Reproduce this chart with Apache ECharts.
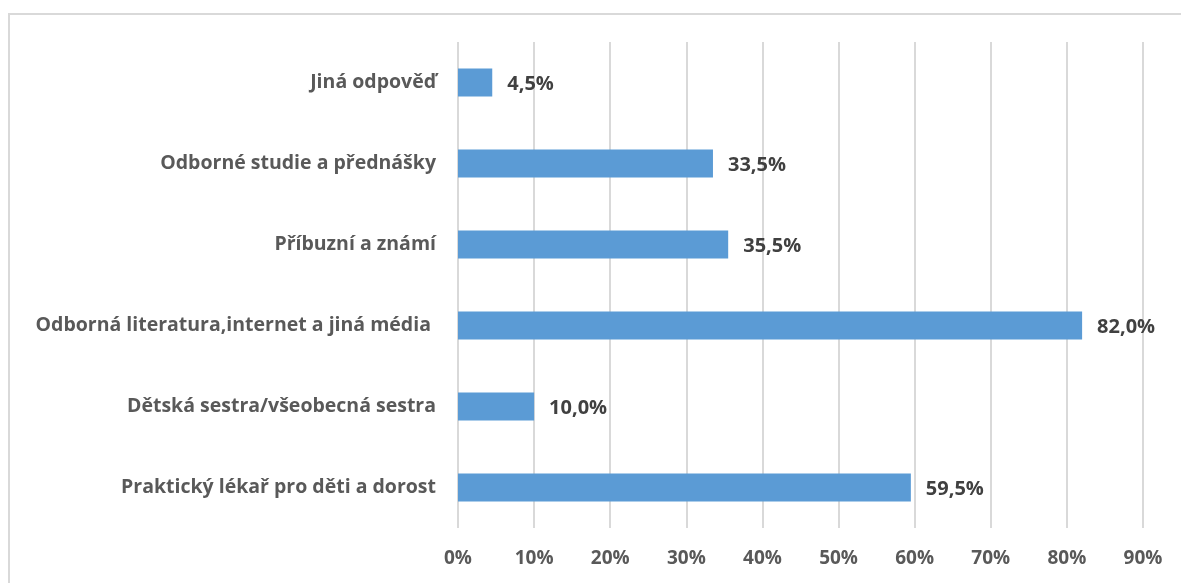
<!DOCTYPE html>
<html>
<head>
<meta charset="utf-8">
<script src="https://cdn.jsdelivr.net/npm/echarts@6/dist/echarts.min.js"></script>
<style>
  html, body { margin: 0; padding: 0; background: #ffffff; }
  #chart { width: 1181px; height: 583px; }
</style>
</head>
<body>
<div id="chart"></div>
<script>
// Sources of information (share of respondents, %), listed bottom to top
const categories = [
  'Praktický lékař pro děti a dorost',
  'Dětská sestra/všeobecná sestra',
  'Odborná literatura,internet a jiná média ',
  'Příbuzní a známí',
  'Odborné studie a přednášky',
  'Jiná odpověď'
];
const shares = [59.5, 10.0, 82.0, 35.5, 33.5, 4.5];

const axisMin = 0;
const axisMax = 90;
const axisStep = 10;

const textColor = '#595959';
const gridColor = '#d9d9d9';
const barColor = '#5b9bd5';
const fontFamily = '"Open Sans", "Liberation Sans", sans-serif';

const fmtPct = v => v.toFixed(1).replace('.', ',') + '%';

const chart = echarts.init(document.getElementById('chart'), null, { renderer: 'canvas' });

chart.setOption({
  backgroundColor: '#ffffff',
  animation: false,
  graphic: [{
    type: 'rect',
    shape: { x: 9, y: 14, width: 1190, height: 600 },
    style: { fill: 'none', stroke: gridColor, lineWidth: 2 },
    silent: true,
    z: -1
  }],
  grid: { left: 458, right: 38, top: 42, bottom: 55, containLabel: false },
  xAxis: {
    type: 'value',
    min: axisMin,
    max: axisMax,
    interval: axisStep,
    axisLine: { show: false },
    axisTick: { show: false },
    splitLine: { show: true, lineStyle: { color: gridColor, width: 2 } },
    axisLabel: {
      formatter: '{value}%',
      color: textColor,
      fontFamily: fontFamily,
      fontWeight: 'bold',
      fontSize: 19,
      margin: 21
    }
  },
  yAxis: {
    type: 'category',
    data: categories,
    axisLine: { show: false },
    axisTick: { show: false },
    splitLine: { show: false },
    axisLabel: {
      color: textColor,
      fontFamily: fontFamily,
      fontWeight: 'bold',
      fontSize: 19.5,
      margin: 22
    }
  },
  series: [{
    type: 'bar',
    data: shares,
    barWidth: 28,
    itemStyle: { color: barColor },
    label: {
      show: true,
      position: 'right',
      distance: 15,
      offset: [0, 2],
      formatter: p => fmtPct(p.value),
      color: '#404040',
      fontFamily: fontFamily,
      fontWeight: 'bold',
      fontSize: 20
    }
  }]
});
</script>
</body>
</html>
